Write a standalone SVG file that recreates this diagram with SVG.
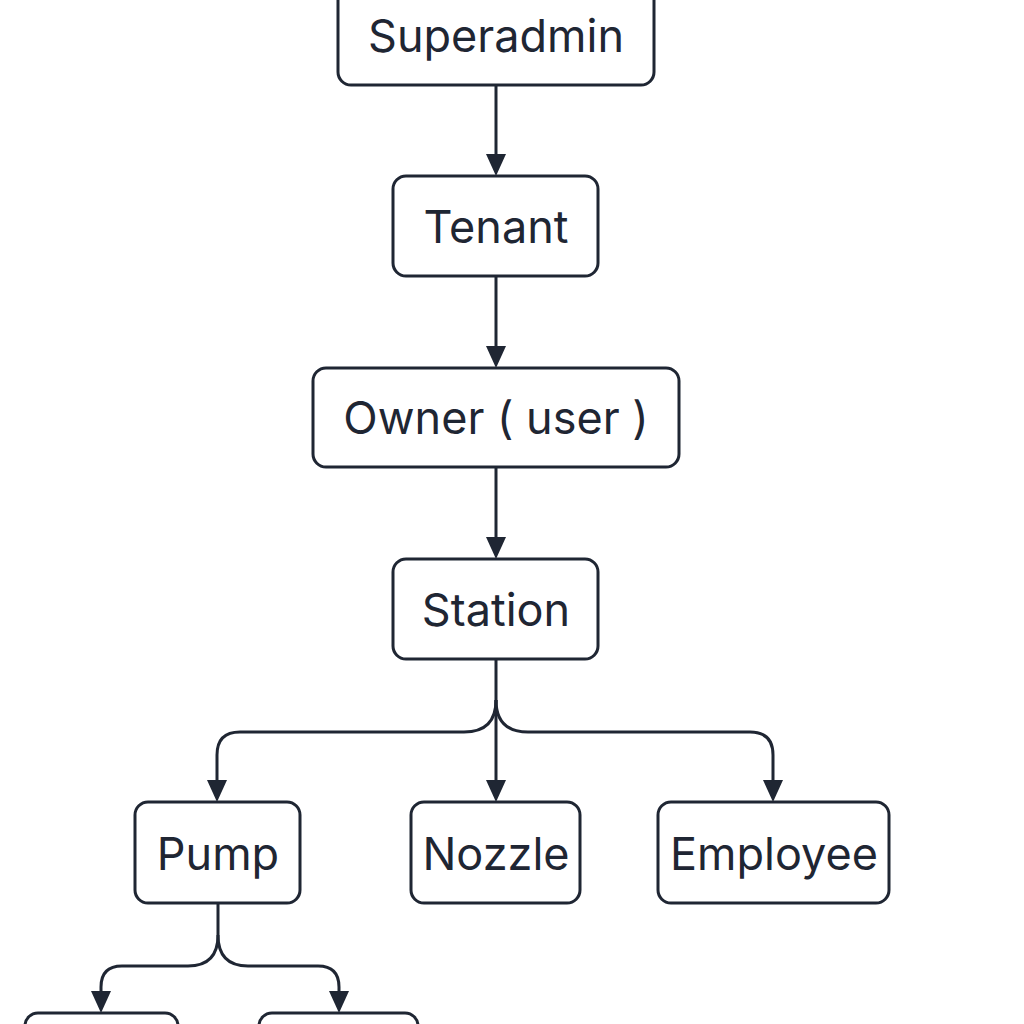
<svg xmlns="http://www.w3.org/2000/svg" width="1024" height="1024" viewBox="0 0 1024 1024">
<style>
.box{fill:#fff;stroke:#1f2633;stroke-width:3}
.t{font-family:Inter,"Noto Sans",sans-serif;font-size:45px;fill:#1f2633;text-anchor:middle;dominant-baseline:central}
.c{fill:none;stroke:#1f2633;stroke-width:3}
.ah{fill:#1f2633}
</style>
<rect width="1024" height="1024" fill="#fff"/>
<g id="connectors">
<path class="c" d="M496 85 V154" />
<path class="ah" d="M486 154 L506 154 L496 176 Z"/>
<path class="c" d="M496 276 V346" />
<path class="ah" d="M486 346 L506 346 L496 368 Z"/>
<path class="c" d="M496 467 V537" />
<path class="ah" d="M486 537 L506 537 L496 559 Z"/>
<path class="c" d="M496 659 V780" />
<path class="ah" d="M486 780 L506 780 L496 802 Z"/>
<path class="c" d="M496 700 Q496 732 464 732 H240 Q217 732 217 755 V780" />
<path class="ah" d="M207 780 L227 780 L217 802 Z"/>
<path class="c" d="M496 700 Q496 732 528 732 H750 Q773 732 773 755 V780" />
<path class="ah" d="M763 780 L783 780 L773 802 Z"/>
<path class="c" d="M218 903 V935 Q218 966 188 966 H122 Q101 966 101 987 V991" />
<path class="ah" d="M91 991 L111 991 L101 1013 Z"/>
<path class="c" d="M218 935 Q218 966 248 966 H318 Q339 966 339 987 V991" />
<path class="ah" d="M329 991 L349 991 L339 1013 Z"/>
</g>
<g id="superadmin"><rect class="box" x="338" y="-20" width="316" height="105" rx="13"/><text class="t" x="496" y="35">Superadmin</text></g>
<g id="tenant"><rect class="box" x="393" y="176" width="205" height="100" rx="13"/><text class="t" x="496" y="226">Tenant</text></g>
<g id="owner"><rect class="box" x="313" y="368" width="366" height="99" rx="13"/><text class="t" x="496" y="417">Owner ( user )</text></g>
<g id="station"><rect class="box" x="393" y="559" width="205" height="100" rx="13"/><text class="t" x="496" y="609">Station</text></g>
<g id="pump"><rect class="box" x="135" y="802" width="165" height="101" rx="13"/><text class="t" x="218" y="853">Pump</text></g>
<g id="nozzle"><rect class="box" x="411" y="802" width="169" height="101" rx="13"/><text class="t" x="496" y="853">Nozzle</text></g>
<g id="employee"><rect class="box" x="658" y="802" width="231" height="101" rx="13"/><text class="t" x="774" y="853">Employee</text></g>
<g id="child1"><rect class="box" x="25" y="1013" width="153" height="60" rx="13"/></g>
<g id="child2"><rect class="box" x="259" y="1013" width="159" height="60" rx="13"/></g>
</svg>
